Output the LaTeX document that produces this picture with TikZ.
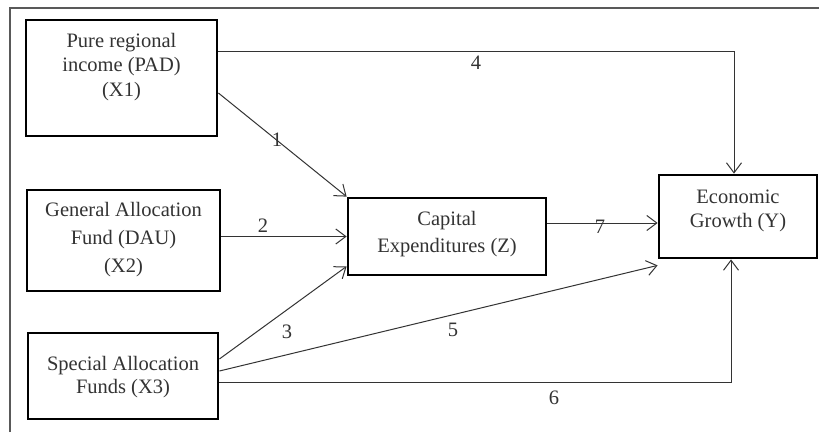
\documentclass[tikz,border=0pt]{standalone}
\usepackage{fontspec}
\setmainfont{Liberation Serif}
\usetikzlibrary{arrows.meta}
\begin{document}
\begin{tikzpicture}[x=1pt,y=-1pt,
  box/.style={draw=black, line width=2.8pt, fill=white, inner sep=0pt},
  lbl/.style={align=center, text=black!80, inner sep=0pt, font=\fontsize{20.5}{24.5}\selectfont},
  num/.style={text=black!80, inner sep=0pt, font=\fontsize{20.5}{24.5}\selectfont},
  conn/.style={draw=black!80, line width=1pt, -{Straight Barb[length=10pt,width=15pt,line width=1pt]}},
  plain/.style={draw=black!80, line width=1pt}]
\useasboundingbox (0,0) rectangle (819,432);
\fill[white] (0,0) rectangle (819,432);
% frame
\draw[black!65, line width=1.6pt] (10,432) -- (10,8) -- (819,8);
% boxes
\node[box, minimum width=191pt, minimum height=116pt] (x1) at (121.5,78) {};
\node[lbl] (x1t) at (121.5,67) {Pure regional\\income (PAD)\\(X1)};
\node[box, minimum width=193pt, minimum height=101pt] (x2) at (123.5,240.5) {};
\node[lbl, font=\fontsize{20.5}{28}\selectfont] (x2t) at (123.5,240) {General Allocation\\Fund (DAU)\\(X2)};
\node[box, minimum width=190pt, minimum height=86pt] (x3) at (123,376) {};
\node[lbl, font=\fontsize{20.5}{23}\selectfont] (x3t) at (123,377) {Special Allocation\\Funds (X3)};
\node[box, minimum width=198pt, minimum height=77pt] (cz) at (447,236.5) {};
\node[lbl, font=\fontsize{20.5}{27}\selectfont] (czt) at (447,234) {Capital\\Expenditures (Z)};
\node[box, minimum width=158pt, minimum height=83pt] (eg) at (738,216.5) {};
\node[lbl] (egt) at (738,211) {Economic\\Growth (Y)};
% connectors
\draw[conn] ([yshift=27pt]x1.east) -| ([xshift=-4pt]eg.north);
\draw[conn] ([yshift=-15pt]x1.east) -- (cz.north west);
\draw[conn] (x2.east |- cz.west) -- (cz.west);
\draw[conn] ([yshift=17pt]x3.east) -- ([yshift=10pt]cz.south west);
\draw[conn] ([yshift=5pt]x3.east) -- ([yshift=-6pt]eg.south west);
\draw[conn] ([yshift=-6pt]x3.east) -| ([xshift=-7pt]eg.south);
\draw[conn] ([yshift=13.5pt]cz.east) -- ([yshift=13.5pt]cz.east -| eg.west);
% labels
\node[num] (n4) at (476,63) {4};
\node[num] (n1) at (277,140) {1};
\node[num] (n2) at (263,226) {2};
\node[num] (n3) at (287,332) {3};
\node[num] (n5) at (453,330) {5};
\node[num] (n6) at (554,398) {6};
\node[num] (n7) at (600,227) {7};
\end{tikzpicture}
\end{document}
